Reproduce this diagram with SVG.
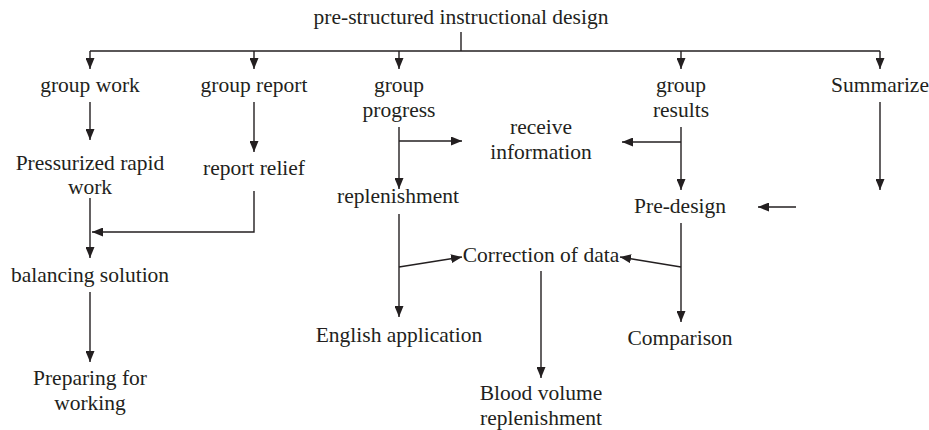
<svg xmlns="http://www.w3.org/2000/svg" width="929" height="430" viewBox="0 0 929 430">
<defs>
<marker id="ah" viewBox="0 0 11 9" refX="11" refY="4.5" markerWidth="11" markerHeight="9" markerUnits="userSpaceOnUse" orient="auto">
<path d="M0,0 L11,4.5 L0,9 z" fill="#231f20"/>
</marker>
</defs>
<style>
text{font-family:"Liberation Serif","Times New Roman",serif;font-size:21.5px;fill:#231f20;text-anchor:middle}
.c line,.c path{stroke:#231f20;stroke-width:1.4;fill:none}
.a{marker-end:url(#ah)}
</style>
<rect width="929" height="430" fill="#ffffff"/>
<g class="c" id="connectors">
<line x1="461" y1="32" x2="461" y2="51"/>
<line x1="90" y1="51" x2="880" y2="51"/>
<line class="a" x1="90" y1="51" x2="90" y2="69"/>
<line class="a" x1="254" y1="51" x2="254" y2="69"/>
<line class="a" x1="399" y1="51" x2="399" y2="69"/>
<line class="a" x1="681" y1="51" x2="681" y2="69"/>
<line class="a" x1="880" y1="51" x2="880" y2="69"/>
<line class="a" x1="90" y1="102" x2="90" y2="140"/>
<line class="a" x1="254" y1="102" x2="254" y2="152"/>
<line class="a" x1="399" y1="127" x2="399" y2="189"/>
<line class="a" x1="399" y1="141" x2="462" y2="141"/>
<line class="a" x1="681" y1="127" x2="681" y2="190"/>
<line class="a" x1="681" y1="142" x2="622" y2="142"/>
<line class="a" x1="880" y1="102" x2="880" y2="190"/>
<line class="a" x1="796" y1="207" x2="758" y2="207"/>
<line class="a" x1="90" y1="198" x2="90" y2="258"/>
<path class="a" d="M254,191 V232 H92"/>
<line class="a" x1="90" y1="292" x2="90" y2="362"/>
<line class="a" x1="399" y1="214" x2="399" y2="317"/>
<line class="a" x1="399" y1="267" x2="462" y2="257"/>
<line class="a" x1="681" y1="223" x2="681" y2="322"/>
<line class="a" x1="681" y1="267" x2="620" y2="257"/>
<line class="a" x1="541" y1="271" x2="541" y2="378"/>
</g>
<g id="n-title"><text x="461" y="24">pre-structured instructional design</text></g>
<g id="n-groupwork"><text x="90" y="92">group work</text></g>
<g id="n-groupreport"><text x="254" y="92">group report</text></g>
<g id="n-groupprogress"><text x="399" y="92">group</text><text x="399" y="117">progress</text></g>
<g id="n-groupresults"><text x="681" y="92">group</text><text x="681" y="117">results</text></g>
<g id="n-summarize"><text x="880" y="92">Summarize</text></g>
<g id="n-pressurized"><text x="90" y="170">Pressurized rapid</text><text x="90" y="194">work</text></g>
<g id="n-reportrelief"><text x="254" y="175">report relief</text></g>
<g id="n-receive"><text x="541" y="134">receive</text><text x="541" y="159">information</text></g>
<g id="n-replenishment"><text x="398" y="203">replenishment</text></g>
<g id="n-predesign"><text x="680" y="213">Pre-design</text></g>
<g id="n-balancing"><text x="90" y="282">balancing solution</text></g>
<g id="n-correction"><text x="541" y="262">Correction of data</text></g>
<g id="n-english"><text x="399" y="342">English application</text></g>
<g id="n-comparison"><text x="680" y="345">Comparison</text></g>
<g id="n-preparing"><text x="90" y="385">Preparing for</text><text x="90" y="410">working</text></g>
<g id="n-blood"><text x="541" y="400">Blood volume</text><text x="541" y="425">replenishment</text></g>
</svg>
